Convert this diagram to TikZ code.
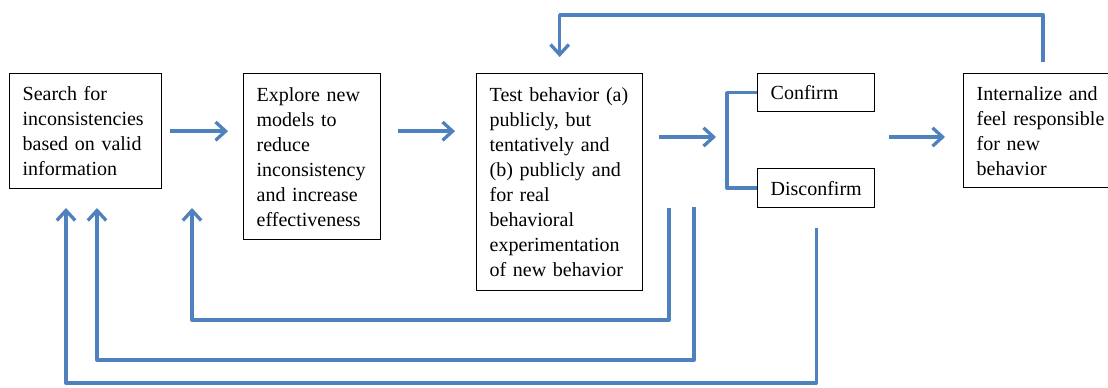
\documentclass[tikz,border=0pt]{standalone}
\usepackage{fontspec}
\setmainfont{Liberation Serif}
\usetikzlibrary{arrows.meta,calc}
\definecolor{loopblue}{RGB}{79,129,189}

\begin{document}
\begin{tikzpicture}[x=0.6pt,y=-0.6pt,
  box/.style={draw,line width=0.8pt,anchor=north west,align=left,inner xsep=7.8pt,inner ysep=0pt,font=\fontsize{12}{15}\selectfont},
  flow/.style={draw=loopblue,line width=2pt,line join=round,-{Straight Barb[length=6pt,width=11pt]}},
  link/.style={draw=loopblue,line width=2pt,line join=round}]
\useasboundingbox (0,0) rectangle (1108,388);

% boxes
\node[box,text width=75.6pt,minimum height=69pt] (search) at (9,73) {Search for\\inconsistencies\\based on valid\\information};
\node[box,text width=66.6pt,minimum height=99.6pt] (explore) at (243,73) {Explore new\\models to\\reduce\\inconsistency\\and increase\\effectiveness};
\node[box,text width=84pt,minimum height=130.2pt] (test) at (476,73) {Test behavior (a)\\publicly, but\\tentatively and\\(b) publicly and\\for real\\behavioral\\experimentation\\of new behavior};
\node[box,text width=54.6pt,minimum height=22.8pt] (confirm) at (757,73) {Confirm};
\node[box,text width=54.6pt,minimum height=23.4pt] (disconfirm) at (757,168) {Disconfirm};
\node[box,text width=77.4pt,minimum height=68.4pt] (internalize) at (963,73) {Internalize and\\feel responsible\\for new\\behavior};

% forward arrows
\coordinate (fork) at (727,137);
\draw[flow,shorten <=4.8pt,shorten >=9pt] (search.east) -- (search.east -| explore.west);
\draw[flow,shorten <=10.2pt,shorten >=12.6pt] (search.east -| explore.east) -- (search.east -| test.west);
\draw[flow,shorten <=9.6pt,shorten >=6.6pt] (fork -| test.east) -- (fork);
\draw[link] (confirm.west) -| (fork) |- (disconfirm.west);
\draw[flow,shorten <=8.4pt,shorten >=10.8pt] (fork -| disconfirm.east) -- (fork -| internalize.west);

% feedback loops
\coordinate (ceiling) at (0,15);
\draw[flow,shorten >=9.6pt] ([xshift=48pt,yshift=6.6pt]internalize.north west) |- (test.north |- ceiling) -- (test.north);

\coordinate (startA) at (669,208);
\coordinate (startB) at (694,207);
\coordinate (startC) at ([yshift=-12pt]disconfirm.south);
\coordinate (tipA) at (192,208);
\coordinate (tipB) at (97,208);
\coordinate (tipC) at (66,208);
\coordinate (floorA) at (0,320);
\coordinate (floorB) at (0,360);
\coordinate (floorC) at (0,383);
\draw[flow] (startA) |- (floorA -| tipA) -- (tipA);
\draw[flow] (startB) |- (floorB -| tipB) -- (tipB);
\draw[flow] (startC) |- (floorC -| tipC) -- (tipC);
\end{tikzpicture}
\end{document}
